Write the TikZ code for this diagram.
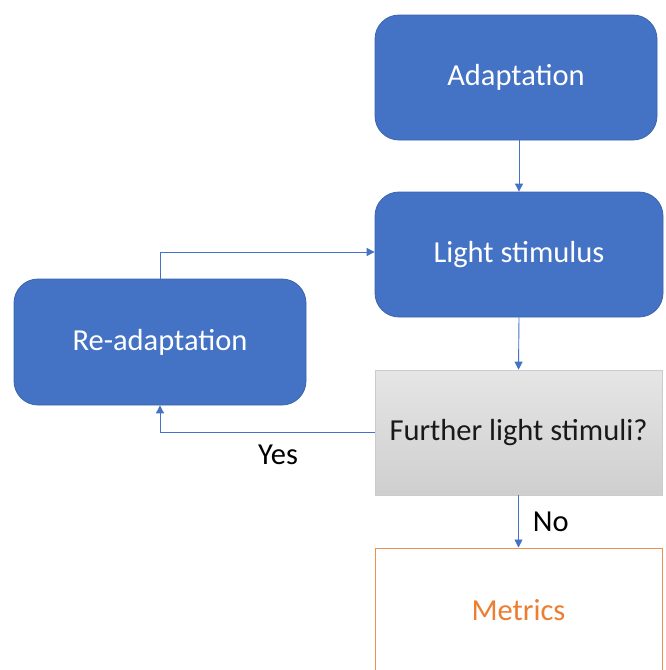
\documentclass[tikz,border=0pt]{standalone}
\usepackage{fontspec}
\setmainfont{Carlito}
\usetikzlibrary{arrows.meta}
\definecolor{ofblue}{HTML}{4472C4}
\definecolor{ofborder}{HTML}{3B64AD}
\definecolor{oforange}{HTML}{ED7D31}
\begin{document}
\begin{tikzpicture}[x=1pt,y=-1pt,
  every node/.style={font=\fontsize{30.5}{35}\selectfont},
  blk/.style={rounded corners=24pt, fill=ofblue, draw=ofborder, line width=0.8pt,
    text=white, inner sep=0pt},
  arr/.style={draw=ofblue, line width=0.9pt, -{Triangle[length=8pt,width=8pt]}},
  lbl/.style={text=black, inner sep=0pt}]
\useasboundingbox (0,0) rectangle (665,670);
\clip (0,0) rectangle (665,670);
\node[blk, minimum width=282pt, minimum height=125pt] (A) at (516,77.5) {Adaptation};
\node[blk, minimum width=288pt, minimum height=125pt] (L) at (519,254.5) {Light stimulus};
\node[blk, minimum width=292pt, minimum height=126pt] (R) at (160,342) {Re-adaptation};
\node[top color=gray!20, bottom color=gray!38, draw=gray!40, line width=0.6pt,
  minimum width=287pt, minimum height=125pt, inner sep=0pt, text=black!90] (G) at (518.5,432.5) {Further light stimuli?};
\node[draw=oforange!85, line width=1pt, fill=white, text=oforange,
  minimum width=287pt, minimum height=125pt, inner sep=0pt] (M) at (518.5,610.5) {Metrics};
\draw[arr] (L.north |- A.south) -- (L.north);
\draw[arr] (L.south) -- (G.north);
\draw[arr] (G.south) -- (M.north) node[lbl, midway, right=14pt] (no) {No};
\draw[arr] (G.west) -- (G.west -| R.south) node[lbl, pos=0.45, below=12pt] (yes) {Yes} -- (R.south);
\draw[arr] (R.north) |- ([yshift=2.5pt]L.west);
\end{tikzpicture}
\end{document}
